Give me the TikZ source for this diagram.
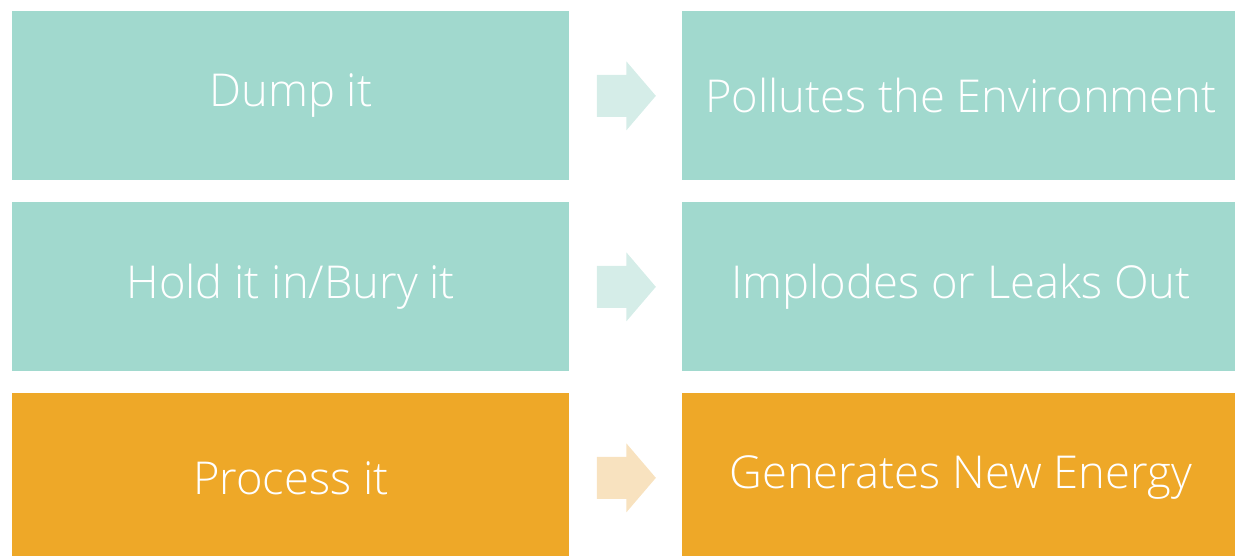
\documentclass[tikz,border=0pt]{standalone}
\usepackage{fontspec}
\setmainfont{Open Sans}[UprightFont=* Light]
\usetikzlibrary{calc}
\definecolor{seafoam}{HTML}{A1D9CE}
\definecolor{seafoamlight}{HTML}{D5EDE8}
\definecolor{amber}{HTML}{EEA828}
\definecolor{amberlight}{HTML}{F8E2BF}
\tikzset
{
  box/.style={anchor=north west,minimum width=11.14cm,minimum height=3.38cm,inner sep=0pt,text=white,font=\fontsize{25.8}{30}\selectfont},
  coolbox/.style={box,fill=seafoam},
  hotbox/.style={box,fill=amber}
}
% debelo puscico med dvema skatlama
\newcommand{\fatarrow}[3]{%
  \coordinate (#3) at ($(#1.east)!0.5!(#2.west)+(0.01,0)$);
  \fill[#3col] ($(#3)+(-0.59,0.42)$) -- ($(#3)+(0,0.42)$) -- ($(#3)+(0,0.69)$)
    -- ($(#3)+(0.59,0)$) -- ($(#3)+(0,-0.69)$) -- ($(#3)+(0,-0.42)$)
    -- ($(#3)+(-0.59,-0.42)$) -- cycle;}
\colorlet{a1col}{seafoamlight}
\colorlet{a2col}{seafoamlight}
\colorlet{a3col}{amberlight}

\begin{document}
\begin{tikzpicture}
  \useasboundingbox (0,0) rectangle (24.7,-11.12);
  \begin{scope}
    \clip (0,0) rectangle (24.7,-11.12);
    % vzroki
    \node[coolbox] (dump)    at (0.24,-0.22) {Dump it};
    \node[coolbox] (hold)    at (0.24,-4.04) {Hold it in/Bury it};
    \node[hotbox]  (process) at (0.24,-7.86) {Process it};
    % posledice
    \node[coolbox] (pollute) at (13.64,-0.22) {Pollutes the Environment};
    \node[coolbox] (implode) at (13.64,-4.04) {Implodes or Leaks Out};
    \node[hotbox]  (energy)  at (13.64,-7.86) {Generates New Energy};
    % puscice
    \fatarrow{dump}{pollute}{a1}
    \fatarrow{hold}{implode}{a2}
    \fatarrow{process}{energy}{a3}
  \end{scope}
\end{tikzpicture}
\end{document}
